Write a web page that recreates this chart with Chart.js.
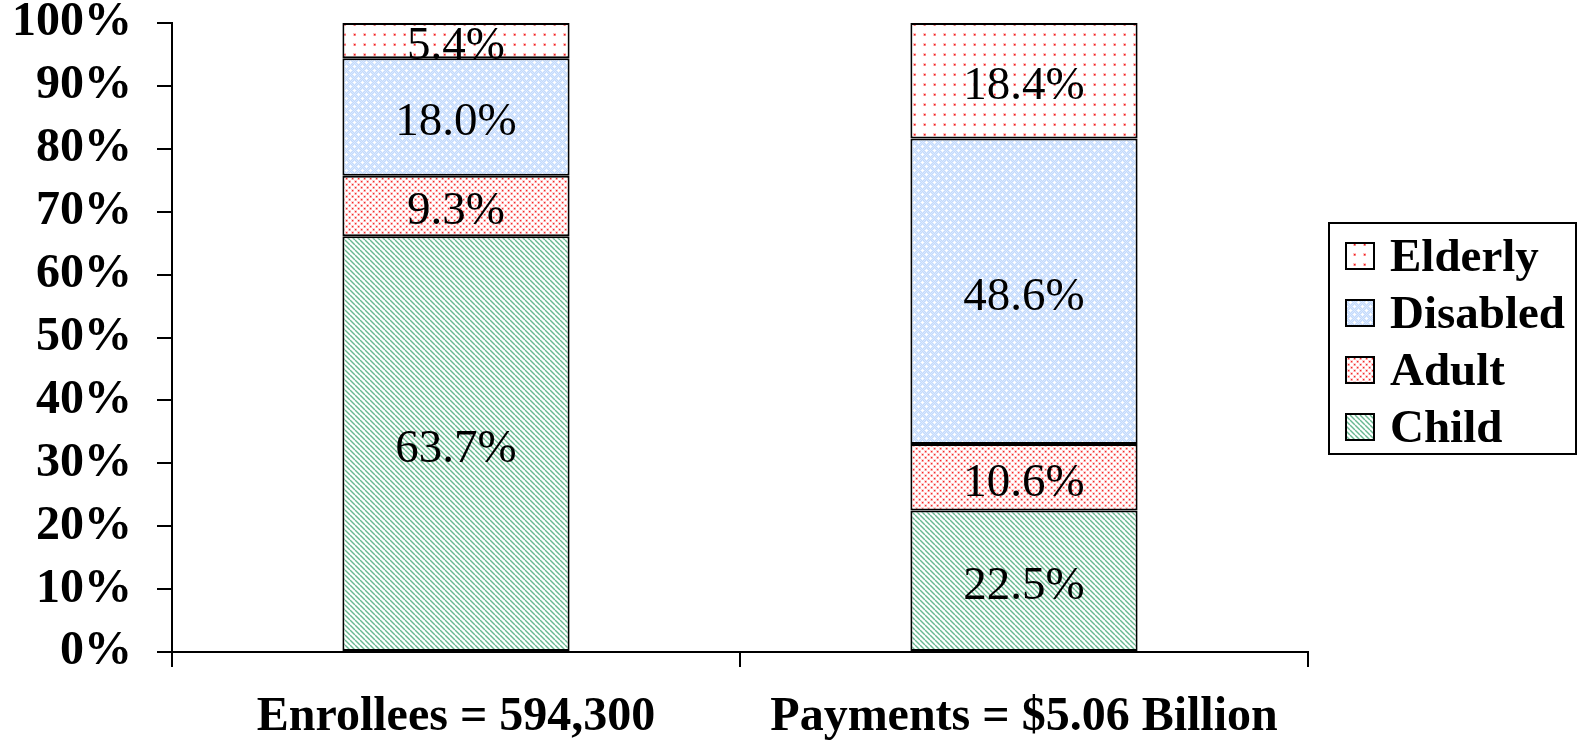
<!DOCTYPE html>
<html>
<head>
<meta charset="utf-8">
<script src="https://cdn.jsdelivr.net/npm/chart.js@4.4.0/dist/chart.umd.min.js"></script>
<style>
    html, body { margin: 0; padding: 0; background: #fff; }
</style>
</head>
<body>
<canvas id="myChart" width="1578" height="740"></canvas>
<script>
var categories = ['Enrollees = 594,300', 'Payments = $5.06 Billion'];
var seriesNames = ['Child', 'Adult', 'Disabled', 'Elderly'];
var child = [63.7, 22.5];
var adult = [9.3, 10.6];
var disabled = [18.0, 48.6];
var elderly = [5.4, 18.4];
var yMax = 100;
var yStep = 10;

var FONT = '"Liberation Serif", "Times New Roman", serif';

function makeTile(size, draw) {
    var c = document.createElement('canvas');
    c.width = size;
    c.height = size;
    var g = c.getContext('2d');
    draw(g, size);
    return document.getElementById('myChart').getContext('2d').createPattern(c, 'repeat');
}

// green diagonal stripes
var childFill = makeTile(5, function (g, s) {
    g.fillStyle = '#fff';
    g.fillRect(0, 0, s, s);
    g.strokeStyle = '#68b890';
    g.lineWidth = 1.4;
    for (var k = -1; k <= 1; k++) {
        g.beginPath();
        g.moveTo(k * s, 0);
        g.lineTo(k * s + s, s);
        g.stroke();
    }
});

// dense red dots
var adultFill = makeTile(6, function (g, s) {
    g.fillStyle = '#fff';
    g.fillRect(0, 0, s, s);
    g.fillStyle = '#ffd0d0';
    g.fillRect(0, 0, 3, 3);
    g.fillRect(3, 3, 3, 3);
    g.fillStyle = '#f22a2a';
    g.fillRect(1, 1, 1.3, 1.3);
    g.fillRect(4, 4, 1.3, 1.3);
});

// light blue with white specks
var disabledFill = makeTile(8, function (g, s) {
    g.fillStyle = '#c3dafc';
    g.fillRect(0, 0, s, s);
    g.fillStyle = '#dbe9fe';
    for (var i = 0; i < s; i++) {
        for (var j = 0; j < s; j++) {
            if ((i + j) % 2 == 0) g.fillRect(i, j, 1, 1);
        }
    }
    g.fillStyle = '#ffffff';
    g.fillRect(1, 2, 3, 1);
    g.fillRect(2, 1, 1, 3);
    g.fillRect(5, 6, 3, 1);
    g.fillRect(6, 5, 1, 3);
});

// sparse red dots
var elderlyFill = makeTile(10, function (g, s) {
    g.fillStyle = '#fff';
    g.fillRect(0, 0, s, s);
    g.fillStyle = '#ffc4c4';
    g.fillRect(3, 3, 3, 3);
    g.fillStyle = '#f02020';
    g.fillRect(4, 4, 1.5, 1.5);
});

var raw = [child, adult, disabled, elderly];
var fills = [childFill, adultFill, disabledFill, elderlyFill];

var totals = [];
for (var i = 0; i < categories.length; i++) {
    totals.push(child[i] + adult[i] + disabled[i] + elderly[i]);
}

var datasets = [];
for (var s = 0; s < seriesNames.length; s++) {
    var shares = [];
    for (var i = 0; i < categories.length; i++) {
        shares.push(raw[s][i] / totals[i] * 100);
    }
    datasets.push({
        label: seriesNames[s],
        data: shares,
        rawValues: raw[s],
        backgroundColor: fills[s],
        borderColor: '#000',
        borderWidth: 2,
        borderSkipped: false,
        barPercentage: 0.4,
        categoryPercentage: 1.0
    });
}

var valueLabels = {
    id: 'valueLabels',
    afterDatasetsDraw: function (chart) {
        var ctx = chart.ctx;
        ctx.save();
        ctx.font = '47px ' + FONT;
        ctx.fillStyle = '#000';
        ctx.textAlign = 'center';
        ctx.textBaseline = 'middle';
        chart.data.datasets.forEach(function (ds, di) {
            chart.getDatasetMeta(di).data.forEach(function (bar, i) {
                var cy = (bar.y + bar.base) / 2;
                ctx.fillText(ds.rawValues[i].toFixed(1) + '%', bar.x, cy + 6);
            });
        });
        ctx.restore();
    }
};

var boxLegend = {
    id: 'boxLegend',
    afterDraw: function (chart) {
        var ctx = chart.ctx;
        ctx.save();
        ctx.strokeStyle = '#000';
        ctx.lineWidth = 2;
        ctx.strokeRect(1329, 223, 247, 231);
        ctx.font = 'bold 47px ' + FONT;
        ctx.textAlign = 'left';
        ctx.textBaseline = 'middle';
        var order = [3, 2, 1, 0];
        for (var k = 0; k < order.length; k++) {
            var ds = chart.data.datasets[order[k]];
            var cy = 256 + k * 57;
            ctx.fillStyle = ds.backgroundColor;
            ctx.fillRect(1346, cy - 13, 28, 26);
            ctx.strokeRect(1346, cy - 13, 28, 26);
            ctx.fillStyle = '#000';
            ctx.fillText(ds.label, 1390, cy + 3);
        }
        ctx.restore();
    }
};

var ctx = document.getElementById('myChart').getContext('2d');
var myChart = new Chart(ctx, {
    type: 'bar',
    data: {
        labels: categories,
        datasets: datasets
    },
    options: {
        responsive: false,
        animation: false,
        layout: { padding: { top: 23, right: 270, left: 0, bottom: 0 } },
        plugins: {
            legend: { display: false },
            tooltip: { enabled: false }
        },
        scales: {
            x: {
                stacked: true,
                afterFit: function (scale) { scale.height = 88; },
                border: { color: '#000', width: 2 },
                grid: { offset: true, drawOnChartArea: false, drawTicks: true, tickLength: 15, color: '#000', lineWidth: 2 },
                ticks: { color: '#000', padding: 22, font: { family: FONT, size: 48, weight: 'bold', lineHeight: 1.2 } }
            },
            y: {
                stacked: true,
                min: 0,
                max: yMax,
                afterFit: function (scale) {
                    scale.width = 172;
                    scale.paddingTop = 0;
                    scale.paddingBottom = 0;
                },
                border: { color: '#000', width: 2 },
                grid: { drawOnChartArea: false, drawTicks: true, tickLength: 15, color: '#000', lineWidth: 2 },
                ticks: {
                    stepSize: yStep,
                    color: '#000',
                    padding: 25,
                    font: { family: FONT, size: 48, weight: 'bold', lineHeight: 1 },
                    callback: function (v) { return v + '%'; }
                }
            }
        }
    },
    plugins: [valueLabels, boxLegend]
});
</script>
</body>
</html>
